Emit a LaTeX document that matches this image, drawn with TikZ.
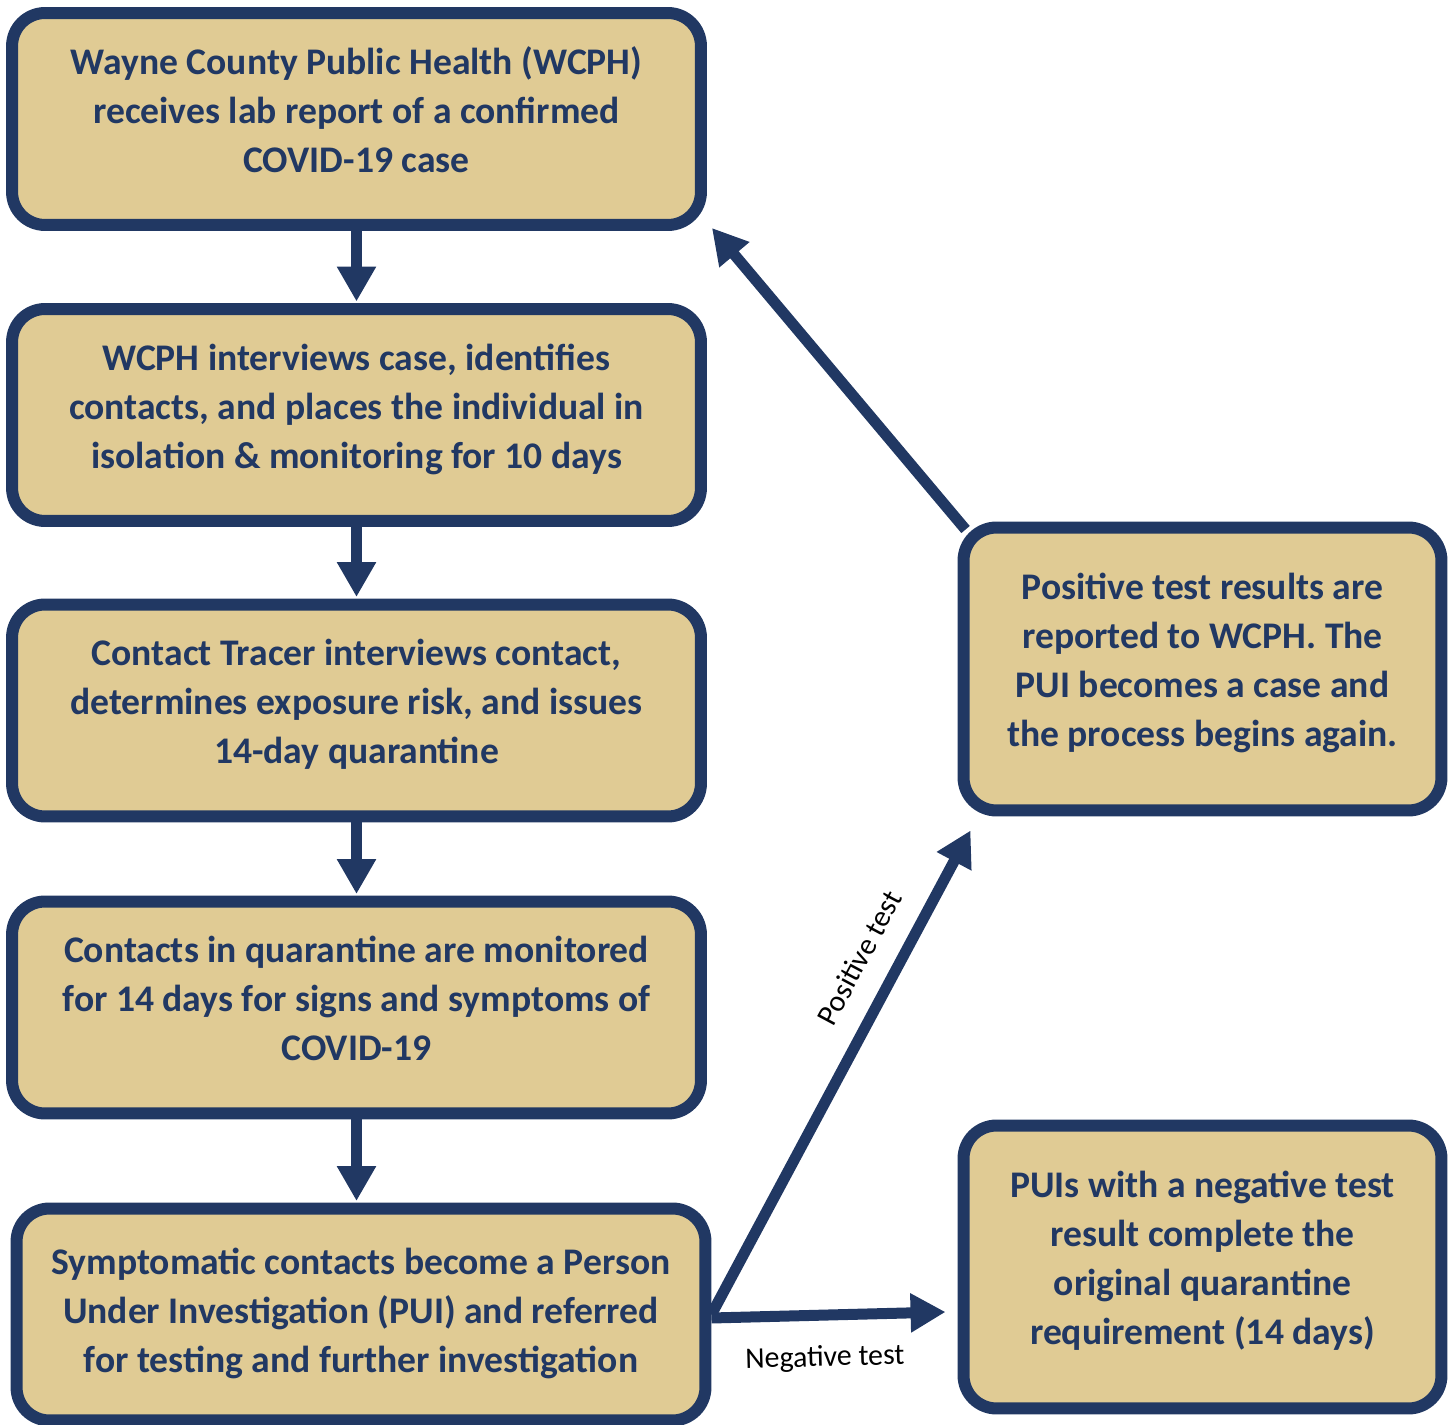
\documentclass[tikz,border=0pt]{standalone}
\usepackage{fontspec}
\setmainfont{Carlito}
\usetikzlibrary{arrows.meta}

\definecolor{wcnavy}{RGB}{33,56,99}
\definecolor{wctan}{RGB}{224,203,148}

\begin{document}
\begin{tikzpicture}[x=0.02cm, y=-0.02cm,
    flowbox/.style={draw=wcnavy, fill=wctan, line width=0.24cm, rounded corners=0.66cm,
        text=wcnavy, align=center, font=\fontsize{21.4}{27.9}\selectfont\bfseries,
        text depth=0.36cm, minimum width=13.78cm, minimum height=4.24cm, inner sep=0pt},
    sidebox/.style={flowbox, minimum width=9.56cm, minimum height=5.66cm},
    flow arrow/.style={-{Triangle[width=0.74cm,length=0.7cm]}, draw=wcnavy, line width=0.22cm},
    test label/.style={font=\fontsize{17}{20}\selectfont, sloped, inner sep=0pt}]
                    \useasboundingbox (0,0) rectangle (1455,1425);

                    % Left column
                    \node[flowbox] (b1) at (356.5,119) {Wayne County Public Health (WCPH)\\receives lab report of a confirmed\\COVID-19 case};
                    \node[flowbox] (b2) at (356.5,415) {WCPH interviews case, identifies\\contacts, and places the individual in\\isolation \& monitoring for 10 days};
                    \node[flowbox] (b3) at (356.5,710.5) {Contact Tracer interviews contact,\\determines exposure risk, and issues\\14-day quarantine};
                    \node[flowbox] (b4) at (356.5,1007.5) {Contacts in quarantine are monitored\\for 14 days for signs and symptoms of\\COVID-19};
                    \node[flowbox, text depth=0.18cm] (b5) at (361,1314.5) {Symptomatic contacts become a Person\\Under Investigation (PUI) and referred\\for testing and further investigation};

                    % Test results
                    \node[sidebox] (pos) at (1202.5,669) {Positive test results are\\reported to WCPH. The\\PUI becomes a case and\\the process begins again.};
                    \node[sidebox] (neg) at (1202.5,1267) {PUIs with a negative test\\result complete the\\original quarantine\\requirement (14 days)};

                    % Arrows down the column
                    \foreach \i/\j in {1/2,2/3,3/4,4/5}
                    {
                        \draw[flow arrow, shorten >=0.03cm] (b\i.south) -- (b\i.south |- b\j.north);
                    }

                    % Back to the start
                    \draw[flow arrow] ([xshift=0.16cm,yshift=-0.16cm]pos.north west) -- ([xshift=0.1cm,yshift=0.06cm]b1.south east);

                    % Test outcomes
                    \draw[flow arrow] (b5.east) -- ([xshift=0.26cm,yshift=-0.28cm]pos.south west)
                        node[test label, pos=0.70, above=0.44cm] {Positive test};
                    \draw[flow arrow] ([yshift=-0.07cm]b5.east) -- ([xshift=-0.24cm,yshift=-0.9cm]neg.west)
                        node[test label, pos=0.48, below=0.5cm] {Negative test};
                \end{tikzpicture}
\end{document}
